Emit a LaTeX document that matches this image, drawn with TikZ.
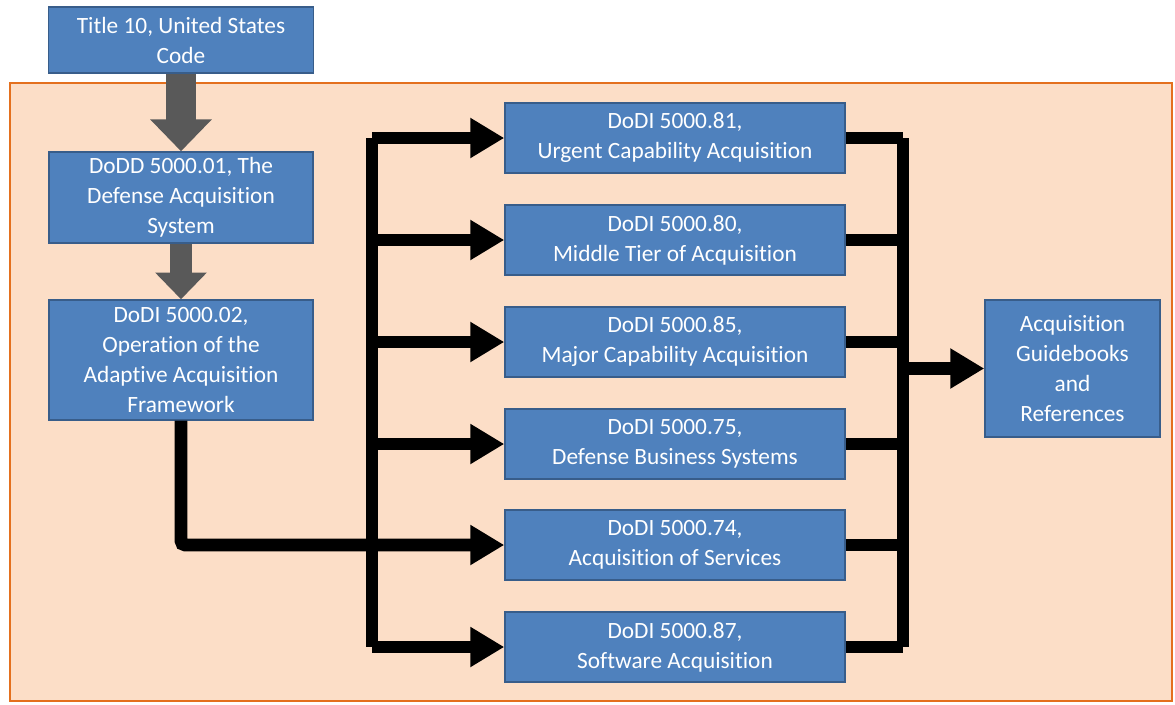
\documentclass[tikz,border=0pt]{standalone}
\usepackage{fontspec}
\setmainfont{Carlito}[Ligatures=NoCommon]
\usetikzlibrary{arrows.meta}

\definecolor{boxblue}{RGB}{79,129,189}
\definecolor{boxedge}{RGB}{56,93,138}
\definecolor{peach}{RGB}{252,222,199}
\definecolor{frameorange}{RGB}{228,112,30}
\definecolor{blockgray}{RGB}{89,89,89}

\tikzset{
  doc/.style={draw=boxedge, fill=boxblue, line width=1.1pt, text=white, align=center,
    inner sep=0pt, font=\fontsize{17.5}{22.5}\selectfont},
  instr/.style={doc, minimum width=255pt, minimum height=52.5pt},
  link/.style={line width=9.5pt, line join=miter},
  feed/.style={link, -{Triangle[length=25.5pt,width=28.5pt]}},
}

\begin{document}
\begin{tikzpicture}[x=0.75pt,y=0.75pt,yscale=-1,xscale=1]
\useasboundingbox (0,0) rectangle (1175,704);

%Shape: Rectangle (background)
\draw [draw=frameorange, fill=peach, line width=1.5pt] (10,83) rectangle (1172,701);

%Shape: left column
\node [doc, minimum width=198.75pt, minimum height=49.5pt] (title) at (181,40) {Title 10, United States\\Code};
\node [doc, minimum width=198pt, minimum height=68.25pt] (dodd) at (181,197.5) {DoDD 5000.01, The\\Defense Acquisition\\System};
\node [doc, minimum width=198pt, minimum height=90pt] (d02) at (181,360) {DoDI 5000.02,\\Operation of the\\Adaptive Acquisition\\Framework};

%Shape: issuances
\node [instr] (n81) at (675,138) {DoDI 5000.81,\\Urgent Capability Acquisition};
\node [instr] (n80) at (675,240) {DoDI 5000.80,\\Middle Tier of Acquisition};
\node [instr] (n85) at (675,342) {DoDI 5000.85,\\Major Capability Acquisition};
\node [instr] (n75) at (675,444) {DoDI 5000.75,\\Defense Business Systems};
\node [instr] (n74) at (675,545) {DoDI 5000.74,\\Acquisition of Services};
\node [instr] (n87) at (675,647) {DoDI 5000.87,\\Software Acquisition};

%Shape: guidebooks
\node [doc, minimum width=131.25pt, minimum height=102.75pt] (acq) at (1072.5,368.5) {Acquisition\\Guidebooks\\and\\References};

%Block arrows
\draw [blockgray, line width=22.5pt, -{Triangle[length=24pt,width=45pt]}] (title.south) -- (dodd.north);
\draw [blockgray, line width=17pt, -{Triangle[length=20pt,width=37.5pt]}] (dodd.south) -- (d02.north);

%Buses
\coordinate (lbus) at (372,138);
\coordinate (rbus) at (903,138);
\draw [link, line cap=square] (lbus |- n81.west) -- (lbus |- n87.west);
\foreach \d in {81,80,85,75,87}
  \draw [feed] (lbus |- n\d.west) -- (n\d.west);
\draw [feed, rounded corners=3pt] (d02.south) |- (n74.west);

\draw [link, line cap=square] (rbus |- n81.east) -- (rbus |- n87.east);
\foreach \d in {81,80,85,75,74,87}
  \draw [link] (n\d.east) -- (rbus |- n\d.east);
\draw [feed] (rbus |- acq.west) -- (acq.west);

\end{tikzpicture}
\end{document}
